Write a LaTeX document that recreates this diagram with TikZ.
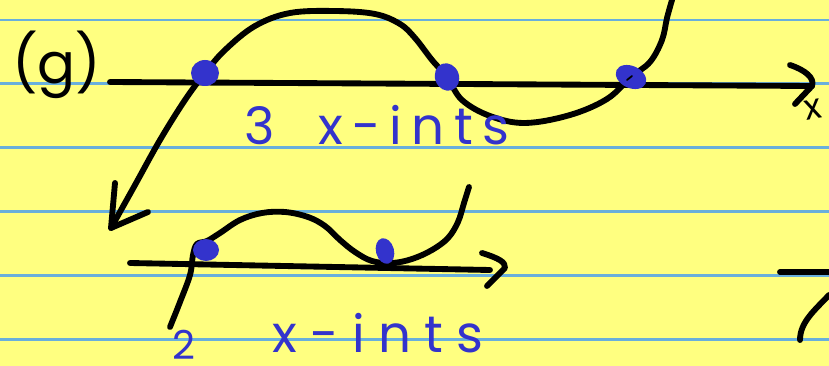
\documentclass[tikz,border=0pt]{standalone}
\usepackage{fontspec}
\usepackage{xcolor}
\usepackage{tikz}
\setmainfont{Poppins}
\newfontfamily\penna[LetterSpace=18]{Poppins}
\newfontfamily\pennalarga[LetterSpace=26]{Poppins}
\definecolor{carta}{RGB}{255,255,128}
\definecolor{righe}{RGB}{105,175,220}
\definecolor{blu}{RGB}{51,51,204}

\begin{document}
\begin{tikzpicture}[x=0.03cm, y=-0.03cm,
    tratto/.style={line width=5pt, line cap=round, line join=round},
    scritta/.style={text=blu, inner sep=0pt, anchor=base west, font=\penna\fontsize{44}{44}\selectfont}]

    % Foglio
    \useasboundingbox (0,0) rectangle (829,366);
    \fill[carta] (0,0) rectangle (829,366);
    \foreach \y in {20,83.5,147.5,211.5,275.5,339.5}
        \draw[righe, line width=2pt] (0,\y) -- (829,\y);

    \node[inner sep=0pt, anchor=base west, font=\fontsize{48}{48}\selectfont] (lettera) at (12,84) {(g)};

    % Grafico sopra
    \coordinate (a1) at (205,73);
    \coordinate (a2) at (447,77);
    \coordinate (a3) at (631,77);
    \coordinate (asx) at (110,82);
    \coordinate (adx) at (812,86);
    \draw[tratto] (asx) -- (adx);
    \draw[tratto] (790,65) .. controls (805,70) and (815,78) .. (adx) -- (795,104);
    \node[inner sep=0pt, anchor=base west, font=\fontsize{30}{30}\selectfont, rotate=10] (ex) at (806,121) {x};
    \draw[tratto] plot[smooth, tension=0.6] coordinates {(111,228) (135,185) (160,140) (185,100) (a1)
        (225,50) (255,26) (290,13) (335,11) (375,14) (400,24) (415,38) (432,60) (a2)
        (462,100) (490,116) (525,123) (570,115) (607,99) (a3) (650,62) (662,40) (667,18) (672,0)};
    \draw[tratto] (115,183) -- (111,228) -- (148,212);
    \fill[blu] (a1) ellipse [x radius=14, y radius=13];
    \fill[blu, rotate around={20:(a2)}] (a2) ellipse [x radius=12, y radius=14];
    \fill[blu, rotate around={-25:(a3)}] (a3) ellipse [x radius=16, y radius=11];
    \draw[line width=1.5pt, line cap=round] (627,80) -- (632,76);
    \node[scritta] (tre) at (244,145) {3};
    \node[scritta] (xint1) at (318,145) {x-ints};

    % Grafico sotto
    \coordinate (b1) at (206,250);
    \coordinate (b2) at (385,251);
    \coordinate (bsx) at (130,263);
    \coordinate (bdx) at (490,270);
    \draw[tratto] (bsx) -- (bdx);
    \draw[tratto] (482,253) .. controls (498,258) and (506,262) .. (505,268) -- (487,286);
    \draw[tratto] plot[smooth, tension=0.6] coordinates {(170,327) (180,302) (190,275) (193,255) (197,244)
        (207,241) (220,233) (240,220) (262,213) (285,212) (308,217) (325,226) (340,240) (355,252)
        (372,261) (392,263) (412,259) (432,250) (448,238) (458,222) (464,203) (469,187)};
    \fill[blu] (b1) ellipse [x radius=13, y radius=11];
    \fill[blu, rotate around={15:(b2)}] (b2) ellipse [x radius=9, y radius=13];
    \node[scritta, font=\penna\fontsize{34}{34}\selectfont] (due) at (172,359) {2};
    \node[scritta, font=\pennalarga\fontsize{44}{44}\selectfont] (xint2) at (272,352) {x-ints};

    % Pezzo a destra
    \draw[tratto] (780,272) -- (829,272);
    \draw[tratto] (800,340) .. controls (800,322) and (815,310) .. (829,295);
\end{tikzpicture}
\end{document}
